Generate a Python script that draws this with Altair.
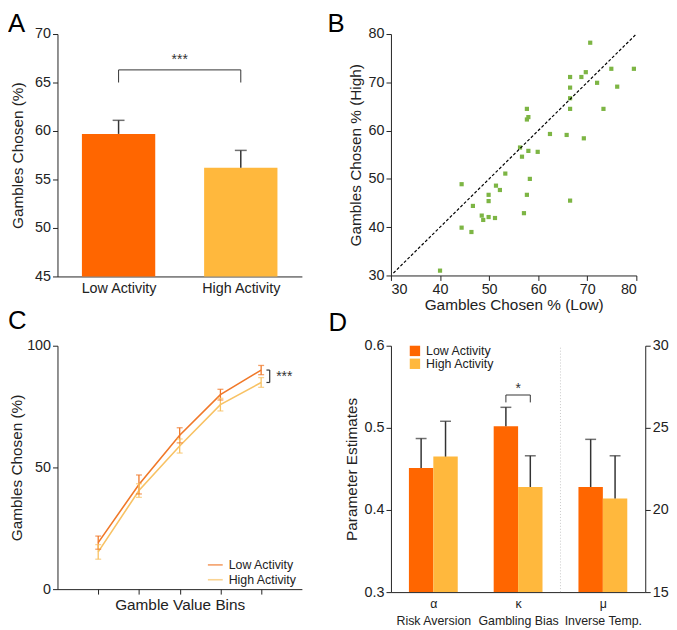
import json
import altair as alt
import pandas as pd

FONT = "Liberation Sans"
LOW_BAR = "#ff6600"
HIGH_BAR = "#ffb83d"
LOW_LINE = "#f07828"
HIGH_LINE = "#f8c264"
DARK = "#333333"
AX = "#222222"
GREEN = "#7db544"
LS = 14.5   # axis label size
TS = 15.5   # axis title size

# ---------------- Panel A data ----------------
A_groups = ["Low Activity", "High Activity"]
A_means = [59.7, 56.2]
A_upper = [61.1, 58.0]
A_sig = "***"

# ---------------- Panel B data ----------------
B_low = [40.0, 44.4, 44.4, 46.4, 46.7, 48.5, 48.8, 49.9, 49.9, 49.9,
         51.2, 51.4, 52.2, 53.3, 56.3, 56.7, 57.1, 57.7, 57.7, 58.0,
         58.0, 57.7, 58.3, 59.9, 62.4, 65.8, 66.5, 66.5, 66.5, 66.5,
         66.5, 68.8, 69.7, 69.3, 70.6, 72.0, 73.3, 74.9, 76.1, 79.5]
B_high = [31.0, 48.9, 39.9, 39.0, 44.4, 42.4, 41.5, 46.7, 45.4, 42.1,
          41.9, 48.6, 47.7, 51.1, 56.5, 54.6, 42.9, 64.5, 62.3, 62.8,
          55.8, 46.7, 50.0, 55.6, 59.3, 59.1, 71.1, 68.9, 66.7, 64.5,
          45.5, 71.1, 72.1, 58.4, 78.2, 69.9, 64.5, 72.8, 69.1, 72.8]

# ---------------- Panel C data ----------------
C_bins = [1, 2, 3, 4, 5]
C_low = [19.1, 43.0, 63.2, 79.9, 90.0]
C_low_err = [2.7, 3.9, 3.1, 2.2, 1.9]
C_high = [15.3, 40.5, 58.8, 75.8, 84.9]
C_high_err = [3.0, 2.8, 2.9, 2.6, 2.0]
C_sig = "***"

# ---------------- Panel D data ----------------
D_params = ["α", "κ", "μ"]
D_names = ["Risk Aversion", "Gambling Bias", "Inverse Temp."]
D_low = [0.451, 0.502]          # left axis (α, κ)
D_low_upper = [0.487, 0.525]
D_high = [0.465, 0.428]
D_high_upper = [0.508, 0.466]
D_mu_low = 21.4                 # right axis (μ)
D_mu_low_upper = 24.3
D_mu_high = 20.7
D_mu_high_upper = 23.3
D_sig = "*"

conds = ["Low Activity", "High Activity"]
letters = ["A", "B", "C", "D"]


def X(field, scale, **kw):
    return alt.X(field, scale=scale, **kw)


def Y(field, scale, **kw):
    return alt.Y(field, scale=scale, **kw)


def ax(**kw):
    base = dict(labelFontSize=LS, titleFontSize=TS, titleFontWeight="normal", labelFont=FONT,
                titleFont=FONT, labelColor=AX, titleColor=AX, domainColor=AX, tickColor=AX,
                tickSize=5, grid=False)
    base.update(kw)
    return alt.Axis(**base)


def letter(t, dx, dy):
    return alt.Chart(pd.DataFrame({"t": [t]})).mark_text(
        fontSize=26, font=FONT, color="black", align="left", baseline="alphabetic").encode(
        x=alt.value(dx), y=alt.value(dy), text="t:N")


# =============== Panel A ===============
dfA = pd.DataFrame({"group": A_groups, "pos": [1, 3], "mean": A_means, "upper": A_upper})
dfA["x1"] = dfA["pos"] - 0.6
dfA["x2"] = dfA["pos"] + 0.6
dfA["base"] = 45

labA = "datum.value < 2 ? '%s' : '%s'" % (A_groups[0], A_groups[1])
sA = alt.Scale(domain=[45, 70], nice=False, zero=False)
sxA = alt.Scale(domain=[0, 4], nice=False)
xA = X("x1:Q", sxA, axis=ax(values=[1, 3], labelExpr=labA, ticks=False, labelPadding=5), title=None)
yA = Y("mean:Q", sA, axis=ax(values=[45, 50, 55, 60, 65, 70], titlePadding=9), title="Gambles Chosen (%)")

barsA = alt.Chart(dfA).mark_bar().encode(
    x=xA, x2="x2:Q", y=yA, y2="base:Q",
    color=alt.Color("group:N", scale=alt.Scale(domain=A_groups, range=[LOW_BAR, HIGH_BAR]), legend=None),
)
errA = alt.Chart(dfA).mark_rule(color=DARK, strokeWidth=1.5).encode(
    x=X("pos:Q", sxA), y=Y("mean:Q", sA), y2="upper:Q")
capA = alt.Chart(dfA).mark_tick(color=DARK, orient="horizontal", size=12, thickness=1.5).encode(
    x=X("pos:Q", sxA), y=Y("upper:Q", sA))
segA = pd.DataFrame({"x": [1, 1, 3], "x2": [3, 1, 3], "y": [66.3, 66.3, 66.3], "y2": [66.3, 65.0, 65.0]})
brA = alt.Chart(segA).mark_rule(color=DARK, strokeWidth=1).encode(
    x=X("x:Q", sxA), x2="x2:Q", y=Y("y:Q", sA), y2="y2:Q")
txtA = alt.Chart(pd.DataFrame({"x": [2], "y": [66.9], "t": [A_sig]})).mark_text(
    fontSize=14, color=DARK, baseline="alphabetic").encode(
    x=X("x:Q", sxA), y=Y("y:Q", sA), text="t:N")

panelA = alt.layer(barsA, errA, capA, brA, txtA, letter(letters[0], -50, -2)).properties(width=247, height=245)

# =============== Panel B ===============
dfB = pd.DataFrame({"low": B_low, "high": B_high})
sB = alt.Scale(domain=[30, 80], nice=False, zero=False)
ptsB = alt.Chart(dfB).mark_square(size=18, color=GREEN, opacity=1).encode(
    x=X("low:Q", sB, axis=ax(values=[30, 40, 50, 60, 70, 80], titlePadding=2), title="Gambles Chosen % (Low)"),
    y=Y("high:Q", sB, axis=ax(values=[30, 40, 50, 60, 70, 80], titlePadding=5), title="Gambles Chosen % (High)"),
)
diagB = alt.Chart(pd.DataFrame({"a": [30.5, 80], "b": [30.5, 80]})).mark_line(
    color="black", strokeDash=[3, 2], strokeWidth=1.2).encode(
    x=X("a:Q", sB), y=Y("b:Q", sB))
panelB = alt.layer(ptsB, diagB, letter(letters[1], -64, -2)).properties(width=248, height=244)

# =============== Panel C ===============
rows = []
for b, m, e in zip(C_bins, C_low, C_low_err):
    rows.append({"bin": b, "val": m, "lo": m - e, "hi": m + e, "cond": conds[0]})
for b, m, e in zip(C_bins, C_high, C_high_err):
    rows.append({"bin": b, "val": m, "lo": m - e, "hi": m + e, "cond": conds[1]})
dfC = pd.DataFrame(rows)
sxC = alt.Scale(domain=[0, 6], nice=False)
syC = alt.Scale(domain=[0, 100], nice=False)
colC = alt.Color("cond:N", scale=alt.Scale(domain=conds, range=[LOW_LINE, HIGH_LINE]),
                 legend=alt.Legend(orient="none", legendX=151, legendY=213, title=None, padding=0,
                                   symbolType="stroke", symbolSize=225, symbolStrokeWidth=1.6,
                                   labelFontSize=12.5, labelFont=FONT, labelColor=AX,
                                   rowPadding=-6, labelOffset=5))
linesC = alt.Chart(dfC).mark_line(strokeWidth=1.6).encode(
    x=X("bin:Q", sxC, axis=ax(values=C_bins, labels=False, titlePadding=3), title="Gamble Value Bins"),
    y=Y("val:Q", syC, axis=ax(values=[0, 50, 100], titlePadding=2), title="Gambles Chosen (%)"),
    color=colC, detail="cond:N")
errC = alt.Chart(dfC).mark_rule(strokeWidth=1.3).encode(
    x=X("bin:Q", sxC), y=Y("lo:Q", syC), y2="hi:Q", color=alt.Color("cond:N"))
capHiC = alt.Chart(dfC).mark_tick(orient="horizontal", size=6, thickness=1.3).encode(
    x=X("bin:Q", sxC), y=Y("hi:Q", syC), color=alt.Color("cond:N"))
capLoC = alt.Chart(dfC).mark_tick(orient="horizontal", size=6, thickness=1.3).encode(
    x=X("bin:Q", sxC), y=Y("lo:Q", syC), color=alt.Color("cond:N"))
segC = pd.DataFrame({"x": [5.21, 5.13, 5.13], "x2": [5.21, 5.21, 5.21],
                     "y": [C_high[-1], C_high[-1], C_low[-1]], "y2": [C_low[-1], C_high[-1], C_low[-1]]})
brC = alt.Chart(segC).mark_rule(color=DARK, strokeWidth=1.2).encode(
    x=X("x:Q", sxC), x2="x2:Q", y=Y("y:Q", syC), y2="y2:Q")
txtC = alt.Chart(pd.DataFrame({"x": [5.37], "y": [C_high[-1] + 0.8], "t": [C_sig]})).mark_text(
    fontSize=14, color=DARK, align="left", baseline="alphabetic").encode(
    x=X("x:Q", sxC), y=Y("y:Q", syC), text="t:N")
panelC = alt.layer(linesC, errC, capHiC, capLoC, brC, txtC, letter(letters[2], -50, -17)).properties(
    width=247, height=246)

# =============== Panel D ===============
HALF = 0.288
centers = [0.5, 1.5, 2.5]
dL = []
for i in range(2):
    dL.append({"x1": centers[i] - HALF, "x2": centers[i], "xc": centers[i] - HALF / 2,
               "val": D_low[i], "up": D_low_upper[i], "base": 0.3, "cond": conds[0]})
    dL.append({"x1": centers[i], "x2": centers[i] + HALF, "xc": centers[i] + HALF / 2,
               "val": D_high[i], "up": D_high_upper[i], "base": 0.3, "cond": conds[1]})
dfDL = pd.DataFrame(dL)
dfDR = pd.DataFrame([
    {"x1": centers[2] - HALF, "x2": centers[2], "xc": centers[2] - HALF / 2,
     "val": D_mu_low, "up": D_mu_low_upper, "base": 15, "cond": conds[0]},
    {"x1": centers[2], "x2": centers[2] + HALF, "xc": centers[2] + HALF / 2,
     "val": D_mu_high, "up": D_mu_high_upper, "base": 15, "cond": conds[1]},
])
sxD = alt.Scale(domain=[0, 3], nice=False)
syL = alt.Scale(domain=[0.3, 0.6], nice=False, zero=False)
syR = alt.Scale(domain=[15, 30], nice=False, zero=False)
labD = json.dumps([[p, n] for p, n in zip(D_params, D_names)], ensure_ascii=False) + "[floor(datum.value)]"
colD = alt.Color("cond:N", scale=alt.Scale(domain=conds, range=[LOW_BAR, HIGH_BAR]),
                 legend=alt.Legend(orient="none", legendX=18, legendY=-1, title=None, padding=0,
                                   symbolType="square", symbolSize=110, symbolStrokeWidth=0,
                                   labelFontSize=12.5, labelFont=FONT, labelColor=AX,
                                   rowPadding=-1, labelOffset=5))
barsDL = alt.Chart(dfDL).mark_bar().encode(
    x=X("x1:Q", sxD, axis=ax(values=centers, labelExpr=labD, ticks=False,
                              labelFontSize=12.5, labelLineHeight=17, labelPadding=6), title=None),
    x2="x2:Q",
    y=Y("val:Q", syL, axis=ax(values=[0.3, 0.4, 0.5, 0.6], format=".1f", titlePadding=5),
        title="Parameter Estimates"),
    y2="base:Q", color=colD)
errDL = alt.Chart(dfDL).mark_rule(color=DARK, strokeWidth=1.5).encode(
    x=X("xc:Q", sxD), y=Y("val:Q", syL), y2="up:Q")
capDL = alt.Chart(dfDL).mark_tick(color=DARK, orient="horizontal", size=11, thickness=1.5).encode(
    x=X("xc:Q", sxD), y=Y("up:Q", syL))
kl = centers[1] - HALF / 2
kh = centers[1] + HALF / 2
segD = pd.DataFrame({"x": [kl, kl, kh], "x2": [kh, kl, kh], "y": [0.540, 0.540, 0.540], "y2": [0.540, 0.531, 0.531]})
brD = alt.Chart(segD).mark_rule(color=DARK, strokeWidth=1).encode(
    x=X("x:Q", sxD), x2="x2:Q", y=Y("y:Q", syL), y2="y2:Q")
txtD = alt.Chart(pd.DataFrame({"x": [centers[1]], "y": [0.542], "t": [D_sig]})).mark_text(
    fontSize=14, color=DARK, baseline="alphabetic").encode(
    x=X("x:Q", sxD), y=Y("y:Q", syL), text="t:N")
sepD = alt.Chart(pd.DataFrame({"x": [2.0], "y": [0.3], "y2": [0.6]})).mark_rule(
    color="#c8c8c8", strokeDash=[1, 2], strokeWidth=1).encode(
    x=X("x:Q", sxD), y=Y("y:Q", syL), y2="y2:Q")
leftD = alt.layer(barsDL, sepD, errDL, capDL, brD, txtD, letter(letters[3], -63, -15))

barsDR = alt.Chart(dfDR).mark_bar().encode(
    x=X("x1:Q", sxD), x2="x2:Q",
    y=Y("val:Q", syR, axis=ax(values=[15, 20, 25, 30], orient="right"), title=None),
    y2="base:Q", color=colD)
errDR = alt.Chart(dfDR).mark_rule(color=DARK, strokeWidth=1.5).encode(
    x=X("xc:Q", sxD), y=Y("val:Q", syR), y2="up:Q")
capDR = alt.Chart(dfDR).mark_tick(color=DARK, orient="horizontal", size=11, thickness=1.5).encode(
    x=X("xc:Q", sxD), y=Y("up:Q", syR))
rightD = alt.layer(barsDR, errDR, capDR)

panelD = alt.layer(leftD, rightD).resolve_scale(y="independent").properties(width=257, height=249)

chart = alt.concat(panelA, panelB, panelC, panelD, columns=2, bounds="flush",
                   spacing={"row": 70, "column": 90}).resolve_scale(color="independent").properties(
    padding=0
).configure_view(stroke=None).configure_axis(
    grid=False, labelFont=FONT, titleFont=FONT, labelFontSize=LS, titleFontSize=TS, titleFontWeight="normal"
).configure_legend(
    labelFont=FONT, labelColor=AX
).configure_text(font=FONT)

chart.save("out.html", embed_options={"renderer": "svg", "actions": False})
